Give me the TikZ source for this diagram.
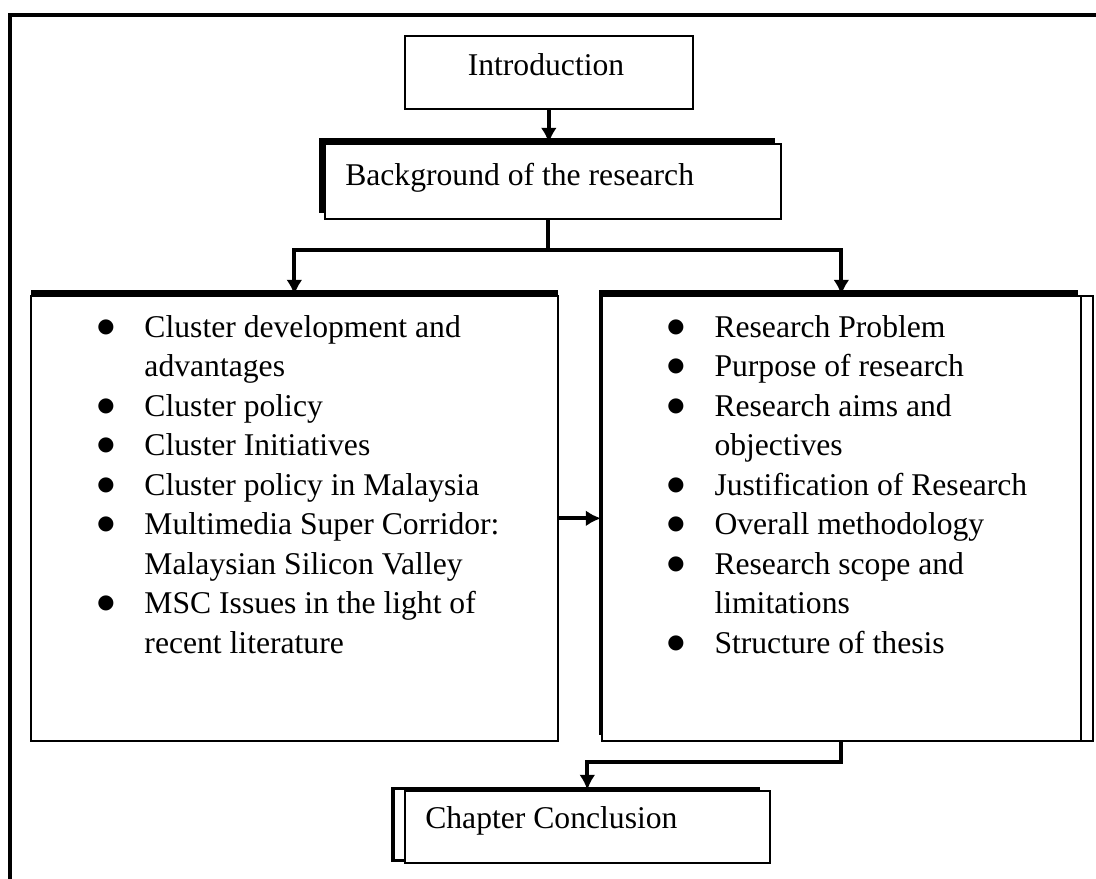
\documentclass[tikz,border=0pt]{standalone}
\usepackage{fontspec}
\setmainfont{Liberation Serif}
\newfontfamily\dotfont{DejaVu Sans}
\usetikzlibrary{shadows,arrows.meta}

\newcommand{\bigbullet}{\makebox[1.18cm][l]{\raisebox{3.5pt}{\dotfont\fontsize{14}{14}\selectfont ●}}}

\begin{document}
\begin{tikzpicture}[x=0.025cm, y=-0.025cm,
     font=\fontsize{22.5}{28.1}\selectfont,
     block/.style = {draw, rectangle, line width=1.1pt, fill=white, inner sep=0pt, anchor=north west},
     topedge/.style = {general shadow={fill=black, shadow xshift=#1, shadow yshift=0.15cm}},
     boxtext/.style = {inner sep=0pt},
     arrow/.style = {draw, line width=2.8pt, -{Latex[length=0.38cm,width=0.4cm]}},
     line/.style = {draw, line width=2.8pt}
    ]
    \useasboundingbox (0,0) rectangle (1096,879);

    % outer frame
    \coordinate (fbl) at (10,879);
    \coordinate (ftl) at (10,15);
    \coordinate (ftr) at (1096,15);
    \draw[line] (fbl) -- (ftl) -- (ftr);

    \node [block, minimum width=7.2cm, minimum height=1.825cm] (intro) at (404,35) {};
    \node [boxtext, anchor=base] (introtxt) at (546,76) {Introduction};

    \node [block, topedge=-0.15cm, minimum width=11.4cm, minimum height=1.875cm] (bg) at (324,143) {};
    \node [boxtext, anchor=base west] (bgtxt) at (345,186) {Background of the research};

    \node [block, topedge=0cm, minimum width=13.175cm, minimum height=11.125cm] (lbox) at (30,295) {};
    \node [boxtext, anchor=base west] (ltxt) at (97,337) {%
      \begin{tabular}[t]{@{}l@{}l@{}}
      \bigbullet & Cluster development and\\
                 & advantages\\
      \bigbullet & Cluster policy\\
      \bigbullet & Cluster Initiatives\\
      \bigbullet & Cluster policy in Malaysia\\
      \bigbullet & Multimedia Super Corridor:\\
                 & Malaysian Silicon Valley\\
      \bigbullet & MSC Issues in the light of\\
                 & recent literature
      \end{tabular}};

    \node [block, general shadow={draw, fill=white, line width=1.1pt, shadow xshift=0.3cm},
           topedge=-0.08cm, minimum width=11.975cm, minimum height=11.125cm] (rbox) at (601,295) {};
    \node [boxtext, anchor=base west] (rtxt) at (667,337) {%
      \begin{tabular}[t]{@{}l@{}l@{}}
      \bigbullet & Research Problem\\
      \bigbullet & Purpose of research\\
      \bigbullet & Research aims and\\
                 & objectives\\
      \bigbullet & Justification of Research\\
      \bigbullet & Overall methodology\\
      \bigbullet & Research scope and\\
                 & limitations\\
      \bigbullet & Structure of thesis
      \end{tabular}};

    \node [block, general shadow={draw, fill=white, line width=2.5pt, shadow xshift=-0.3cm, shadow yshift=0.06cm},
           minimum width=9.125cm, minimum height=1.8cm] (concl) at (404,790) {};
    \node [boxtext, anchor=base west] (concltxt) at (425,828) {Chapter Conclusion};

    % connectors
    \coordinate (split) at (548,250);
    \draw[arrow] (intro.south) -- (intro.south |- bg.north);
    \draw[line] (bg.south -| split) -- (split);
    \draw[arrow] (split) -| (lbox.north);
    \draw[arrow] (split) -| (rbox.north);
    \draw[arrow] (lbox) -- (rbox);
    \draw[arrow] (rbox.south) -- ++(0,20) -| (concl.north);
\end{tikzpicture}
\end{document}
